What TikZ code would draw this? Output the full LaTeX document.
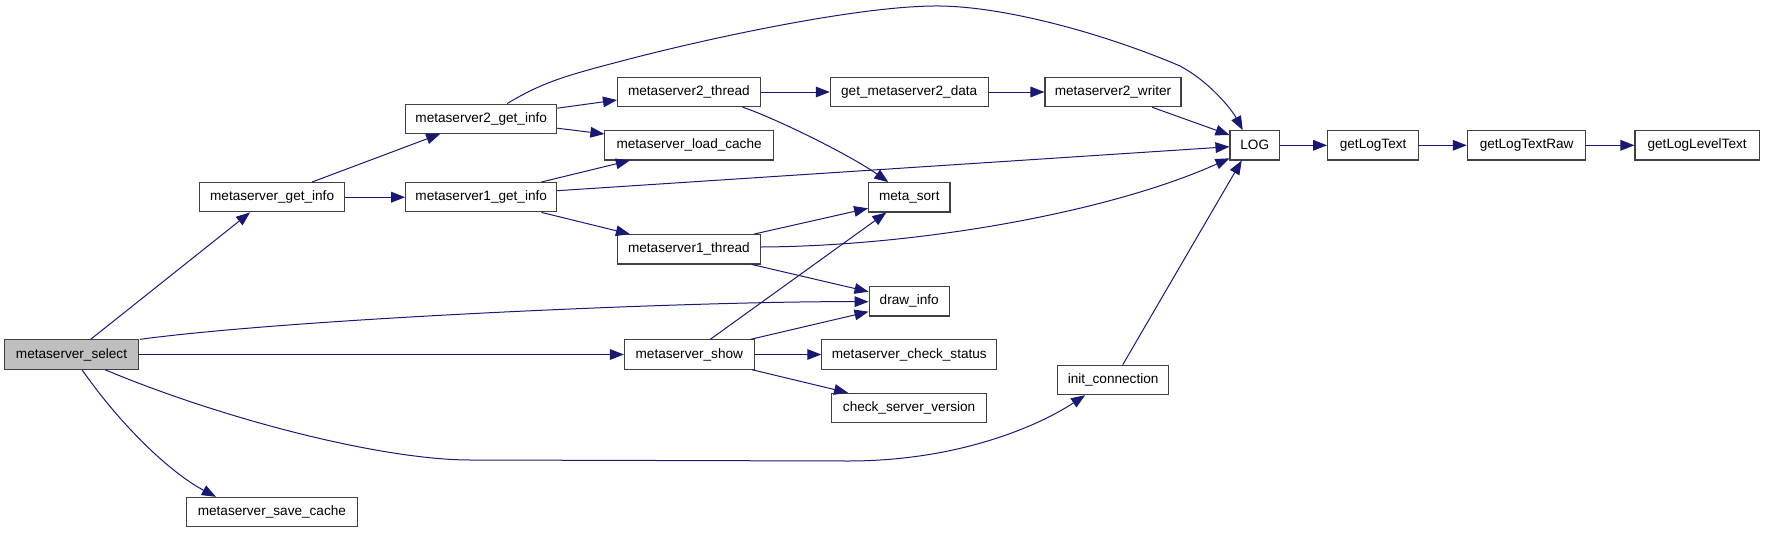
\documentclass[tikz,border=0pt]{standalone}
\usepackage{fontspec}
\setmainfont{Liberation Sans}
\usetikzlibrary{arrows.meta,calc}
\definecolor{edgeblue}{RGB}{25,25,112}
\definecolor{selgray}{RGB}{191,191,191}
\begin{document}
\begin{tikzpicture}[x=0.75pt,y=-0.75pt,
  fn/.style={draw=black!75,line width=0.8pt,fill=white,minimum height=22pt,inner sep=0pt,
    font=\fontsize{10.2}{12}\selectfont},
  e/.style={draw=edgeblue,line width=0.75pt,-{Triangle[length=10.5pt,width=8pt]}}]
\useasboundingbox (0,0) rectangle (1765,532);
% nodes
\node[fn,minimum width=100.5pt,fill=selgray] (sel) at (71.5,354.5) {metaserver\_select};
\node[fn,minimum width=108.45pt] (getinfo) at (272.1,197.2) {metaserver\_get\_info};
\node[fn,minimum width=113.25pt] (m2gi) at (481.2,118.7) {metaserver2\_get\_info};
\node[fn,minimum width=113.25pt] (m1gi) at (481.2,197.2) {metaserver1\_get\_info};
\node[fn,minimum width=128.25pt] (save) at (271.9,512) {metaserver\_save\_cache};
\node[fn,minimum width=107.1pt] (m2t) at (688.9,92) {metaserver2\_thread};
\node[fn,minimum width=118.3pt] (gm2d) at (909.2,92) {get\_metaserver2\_data};
\node[fn,minimum width=102pt] (m2w) at (1113,92) {metaserver2\_writer};
\node[fn,minimum width=126.3pt] (load) at (689.1,145.3) {metaserver\_load\_cache};
\node[fn,minimum width=61.05pt] (msort) at (909.3,197.3) {meta\_sort};
\node[fn,minimum width=107.1pt] (m1t) at (688.9,249.3) {metaserver1\_thread};
\node[fn,minimum width=60.2pt] (draw) at (909.2,301.3) {draw\_info};
\node[fn,minimum width=97.3pt] (show) at (689.3,354.5) {metaserver\_show};
\node[fn,minimum width=131.25pt] (status) at (909.3,354.5) {metaserver\_check\_status};
\node[fn,minimum width=116.55pt] (csv) at (909.1,408) {check\_server\_version};
\node[fn,minimum width=83.25pt] (init) at (1113.1,380) {init\_connection};
\node[fn,minimum width=37.05pt] (LOG) at (1254.7,145.3) {LOG};
\node[fn,minimum width=68.3pt] (glt) at (1373.1,145.3) {getLogText};
\node[fn,minimum width=89pt] (gltr) at (1526.6,145.3) {getLogTextRaw};
\node[fn,minimum width=93.2pt] (glvl) at (1697.1,145.3) {getLogLevelText};
% edges
\draw[e] ($(sel.north)+(19.2,0)$) -- ($(getinfo.south)+(-22,0)$);
\draw[e] ($(sel.north east)+(1,0)$) .. controls (300,318) and (700,301) .. ($(draw.west)+(0,0.4)$);
\draw[e] (sel.east) -- (show.west);
\draw[e] ($(sel.south)+(33.5,0)$) .. controls (220,418) and (380,460) .. (471,460) -- (848,461)
   .. controls (960,461) and (1040,425) .. ($(init.south)+(-28,0)$);
\draw[e] ($(sel.south)+(10.5,0)$) .. controls (122,427) and (171,473) .. ($(save.north)+(-56,0)$);
\draw[e] ($(getinfo.north)+(40,0)$) -- ($(m2gi.south)+(-41,0)$);
\draw[e] (getinfo.east) -- (m1gi.west);
\draw[e] ($(m2gi.north)+(26,0)$) .. controls (540,84) and (560,77) .. (618,62)
   .. controls (700,40) and (860,5) .. (940,6)
   .. controls (1010,7) and (1110,36) .. (1180,66)
   .. controls (1210,82) and (1232,110) .. ($(LOG.north)+(-12,0)$);
\draw[e] ($(m2gi.east)+(0,-10.5)$) -- ($(m2t.west)+(0,8)$);
\draw[e] ($(m2gi.east)+(0,9.5)$) -- ($(load.west)+(0,-11.3)$);
\draw[e] ($(m1gi.north)+(60.3,0)$) -- ($(load.south)+(-59.3,0)$);
\draw[e] ($(m1gi.east)+(0,-6.5)$) -- ($(LOG.west)+(0,1.4)$);
\draw[e] ($(m1gi.south)+(60.3,0)$) -- ($(m1t.north)+(-59,0)$);
\draw[e] (m2t.east) -- (gm2d.west);
\draw[e] (gm2d.east) -- (m2w.west);
\draw[e] ($(m2w.south)+(39,0)$) -- ($(LOG.west)+(0,-10.3)$);
\draw[e] ($(m2t.south)+(53.7,0)$) .. controls (775,118) and (850,155) .. ($(msort.north)+(-21,0)$);
\draw[e] ($(m1t.north)+(65,0)$) -- ($(msort.west)+(0,11)$);
\draw[e] ($(m1t.east)+(0,-2.3)$) .. controls (920,246) and (1110,212) .. ($(LOG.west)+(0,13)$);
\draw[e] ($(m1t.south)+(63,0)$) -- ($(draw.west)+(0,-9.6)$);
\draw[e] ($(show.north)+(21,0)$) -- ($(msort.south)+(-23,0)$);
\draw[e] ($(show.north east)+(-4,0)$) -- ($(draw.west)+(0,10.4)$);
\draw[e] (show.east) -- (status.west);
\draw[e] ($(show.south)+(62.7,0)$) -- ($(csv.north)+(-61,0)$);
\draw[e] ($(init.north)+(9.6,0)$) -- ($(LOG.south)+(-13,0)$);
\draw[e] (LOG.east) -- (glt.west);
\draw[e] (glt.east) -- (gltr.west);
\draw[e] (gltr.east) -- (glvl.west);
\end{tikzpicture}
\end{document}
